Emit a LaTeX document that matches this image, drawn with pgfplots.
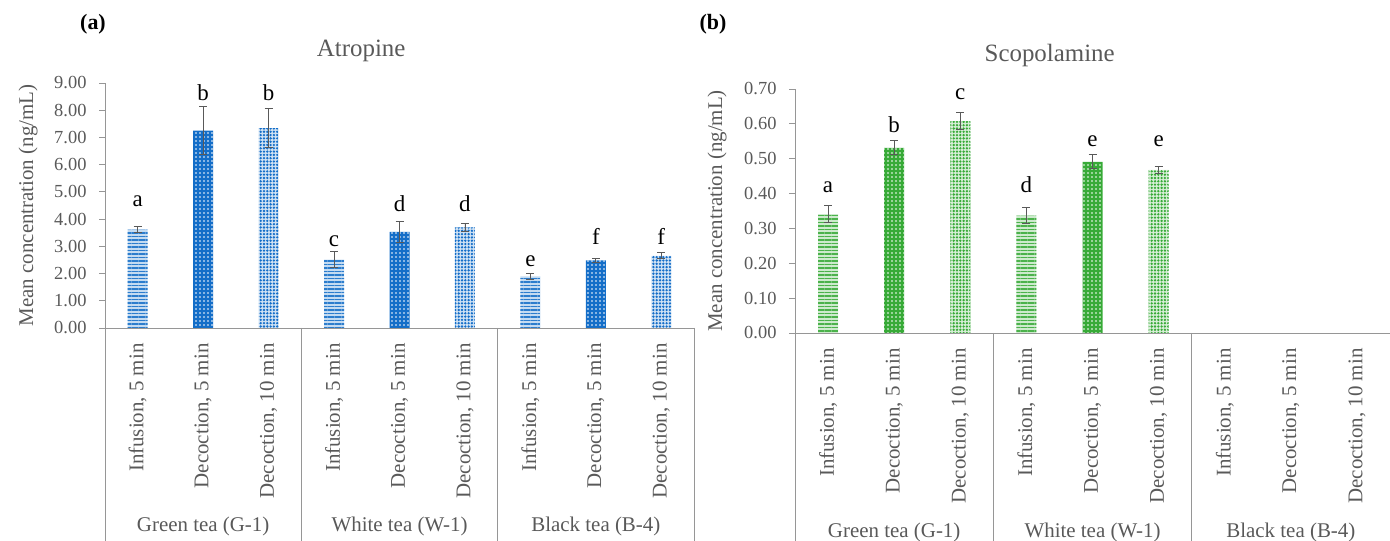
\documentclass[border=0pt]{standalone}
\usepackage{pgfplots}
\pgfplotsset{compat=1.18}
\usetikzlibrary{patterns,patterns.meta}
\usepackage{fontspec}
\setmainfont{Liberation Serif}
\definecolor{tblue}{RGB}{20,110,200}
\definecolor{tgreen}{RGB}{55,170,55}
\definecolor{tgray}{RGB}{89,89,89}
\definecolor{axgray}{RGB}{150,150,150}
\newcommand{\fs}[1]{\fontsize{#1}{#1}\selectfont}
\tikzset{grp/.style={font=\fs{21}, text=tgray, anchor=center}}
\begin{document}
\begin{tikzpicture}[x=1bp,y=1bp]
\useasboundingbox (0,0) rectangle (1390,541);
\pgfplotsset{
 panel/.style={
  scale only axis, anchor=south west, clip=false,
  axis x line=bottom, axis y line=left,
  axis line style={axgray, line width=0.8bp, -},
  xmin=-0.5, xmax=8.5, ymin=0,
  xtick={0,...,8},
  xticklabels={{Infusion, 5 min},{Decoction, 5 min},{Decoction, 10 min},{Infusion, 5 min},{Decoction, 5 min},{Decoction, 10 min},{Infusion, 5 min},{Decoction, 5 min},{Decoction, 10 min}},
  x tick style={draw=none},
  y tick style={axgray, line width=0.8bp},
  major tick length=6bp, tick align=outside,
  xticklabel style={rotate=90, anchor=east, font=\fs{21}, text=tgray},
  xticklabel shift=6bp,
  yticklabel style={font=\fs{18.5}, text=tgray, xshift=-9bp},
  /pgf/number format/fixed, /pgf/number format/fixed zerofill,
  /pgf/number format/precision=2, /pgf/number format/assume math mode=true,
 },
 errs/.style={error bars/.cd, y dir=both, y explicit,
   error bar style={tgray, line width=0.9bp},
   error mark options={rotate=90, mark size=4bp, tgray, line width=0.9bp}},
 lets/.style={draw=none, mark=none, nodes near coords, point meta=explicit symbolic,
   every node near coord/.append style={anchor=base, font=\fs{23}, text=black, inner sep=0pt}},
}
% ---------- (a) Atropine
\begin{axis}[panel, at={(105bp,213bp)}, width=589bp, height=245bp, ymax=9, ytick={0,1,...,9},
  ylabel={Mean concentration (ng/mL)},
  ylabel style={at={(rel axis cs:0,0.5)}, anchor=center, yshift=77bp, font=\fs{21}, text=tgray},
  title={Atropine}, title style={at={(rel axis cs:0.435,1)}, anchor=base, yshift=21bp, font=\fs{25}, text=tgray}]
\addplot[ybar, bar width=20bp, bar shift=0pt, draw=none, fill=tblue!25,
  postaction={pattern={Lines[angle=0,distance=3.5bp,line width=1.1bp]}, pattern color=tblue!90}, errs]
  coordinates {(0,3.61) +- (0,0.11) (3,2.51) +- (0,0.30) (6,1.90) +- (0,0.11)};
\addplot[ybar, bar width=20bp, bar shift=0pt, draw=none, fill=tblue,
  postaction={pattern={Dots[distance=4bp,radius=0.8bp]}, pattern color=white}, errs]
  coordinates {(1,7.25) +- (0,0.87) (4,3.53) +- (0,0.38) (7,2.48) +- (0,0.09)};
\addplot[ybar, bar width=20bp, bar shift=0pt, draw=none, fill=tblue!20,
  postaction={pattern={Dots[distance=3.3bp,radius=1.3bp]}, pattern color=tblue}, errs]
  coordinates {(2,7.34) +- (0,0.71) (5,3.70) +- (0,0.15) (8,2.65) +- (0,0.11)};
\addplot[lets] coordinates {(0,4.47)[a] (1,8.35)[b] (2,8.35)[b] (3,2.99)[c] (4,4.28)[d] (5,4.28)[d] (6,2.26)[e] (7,3.06)[f] (8,3.06)[f]};
\foreach \s in {-0.5,2.5,5.5,8.5}{\edef\tmp{\noexpand\draw[axgray, line width=0.8bp] (axis cs:\s,0) -- ++(0pt,-213bp);}\tmp}
\node[grp] at (axis cs:1,0) [yshift=-198bp] {Green tea (G-1)};
\node[grp] at (axis cs:4,0) [yshift=-198bp] {White tea (W-1)};
\node[grp] at (axis cs:7,0) [yshift=-198bp] {Black tea (B-4)};
\end{axis}
% ---------- (b) Scopolamine
\begin{axis}[panel, at={(795bp,208bp)}, width=595bp, height=244bp, ymax=0.7, ytick={0,0.1,0.2,0.3,0.4,0.5,0.6,0.7},
  ylabel={Mean concentration (ng/mL)},
  ylabel style={at={(rel axis cs:0,0.5)}, anchor=center, yshift=78bp, font=\fs{21}, text=tgray},
  title={Scopolamine}, title style={at={(rel axis cs:0.428,1)}, anchor=base, yshift=22bp, font=\fs{25}, text=tgray}]
\addplot[ybar, bar width=20bp, bar shift=0pt, draw=none, fill=tgreen!25,
  postaction={pattern={Lines[angle=0,distance=3.5bp,line width=1.1bp]}, pattern color=tgreen!90}, errs]
  coordinates {(0,0.341) +- (0,0.025) (3,0.337) +- (0,0.023)};
\addplot[ybar, bar width=20bp, bar shift=0pt, draw=none, fill=tgreen,
  postaction={pattern={Dots[distance=4bp,radius=0.8bp]}, pattern color=white}, errs]
  coordinates {(1,0.531) +- (0,0.020) (4,0.491) +- (0,0.020)};
\addplot[ybar, bar width=20bp, bar shift=0pt, draw=none, fill=tgreen!20,
  postaction={pattern={Dots[distance=3.3bp,radius=1.3bp]}, pattern color=tgreen}, errs]
  coordinates {(2,0.608) +- (0,0.025) (5,0.468) +- (0,0.011)};
\addplot[lets] coordinates {(0,0.404)[a] (1,0.576)[b] (2,0.671)[c] (3,0.404)[d] (4,0.534)[e] (5,0.535)[e]};
\foreach \s in {-0.5,2.5,5.5,8.5}{\edef\tmp{\noexpand\draw[axgray, line width=0.8bp] (axis cs:\s,0) -- ++(0pt,-210bp);}\tmp}
\node[grp] at (axis cs:1,0) [yshift=-199bp] {Green tea (G-1)};
\node[grp] at (axis cs:4,0) [yshift=-199bp] {White tea (W-1)};
\node[grp] at (axis cs:7,0) [yshift=-199bp] {Black tea (B-4)};
\end{axis}
\node[font=\bfseries\fs{22}, anchor=base] at (93,511) {(a)};
\node[font=\bfseries\fs{22}, anchor=base] at (713,511) {(b)};
\end{tikzpicture}
\end{document}
